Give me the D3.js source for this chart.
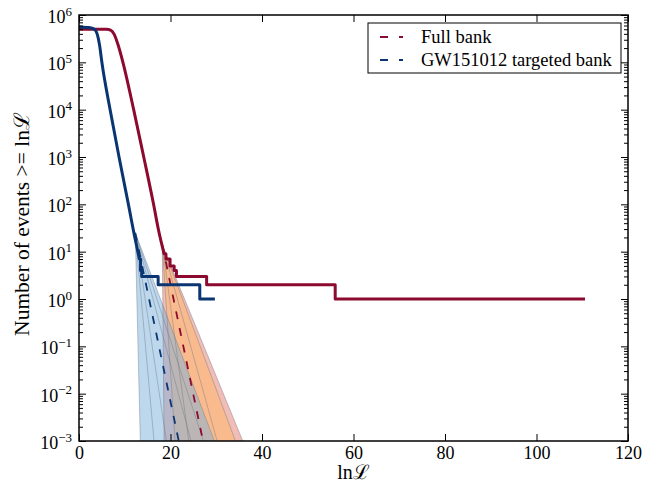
<!DOCTYPE html>
<html>
<head>
<meta charset="utf-8">
<script src="https://cdn.jsdelivr.net/npm/d3@7/dist/d3.min.js"></script>
<style>
body { margin: 0; background: #fff; }
#chart, #chart text { font-family: "Liberation Serif", "Times New Roman", "DejaVu Serif", serif; }
#chart text { fill: #000; }
</style>
</head>
<body>
<svg id="chart" width="663" height="485"></svg>
<script>
"use strict"

/* DATA
 */

// full bank: smooth part of the cumulative count, then the integer steps
const fullX = [0, 6.0, 6.9, 7.7, 8.5, 9.6, 11.95, 14.15, 16.3, 17.4, 18.6];
const fullN = [5.0e5, 5.0e5, 4.8e5, 3.9e5, 2.4e5, 1.0e5, 1.0e4, 1.0e3, 100, 28, 9];
const fullStepX = [18.6, 19.0, 19.9, 20.8, 21.3, 27.9, 56.0, 110.6];
const fullStepN = [9, 7, 5, 4, 3, 2, 1, 1];

// GW151012 targeted bank
const targX = [0, 2.5, 3.4, 4.0, 4.5, 5.0, 6.8, 8.75, 10.8, 12.2, 13.2];
const targN = [5.6e5, 5.4e5, 5.0e5, 3.9e5, 2.3e5, 1.0e5, 1.0e4, 1.0e3, 100, 20, 7];
const targStepX = [13.2, 13.45, 13.7, 17.3, 26.4, 29.7];
const targStepN = [7, 4, 3, 2, 1, 1];

// exponential fits (dashed): start point, and lnL where they reach 1e-3
const fullFitX = [18.2, 27.1];
const fullFitN = [14, 1e-3];
const targFitX = [12.3, 21.8];
const targFitN = [25, 1e-3];

// uncertainty fans: lnL at 1e-3 of each band edge, inner to outer
const fullBandLo = [24.0, 21.0, 18.6];
const fullBandHi = [30.2, 34.2, 35.8];
const targBandLo = [19.1, 16.4, 13.4];
const targBandHi = [24.5, 27.2, 29.6];

const xTicks = [0, 20, 40, 60, 80, 100, 120];
const yExponents = [-3, -2, -1, 0, 1, 2, 3, 4, 5, 6];

const legendLabels = ["Full bank", "GW151012 targeted bank"];

/* STYLE
 */
const RED = "#8c0a2f", BLUE = "#0b3572";
const FONT = "'Liberation Serif', 'Times New Roman', 'DejaVu Serif', serif";
const mLeft = 79, mRight = 628, mTop = 15, mBottom = 441;

const svg = d3.select("#chart").attr("font-family", FONT);

const x = d3.scaleLinear().domain([0, 120]).range([mLeft, mRight]);
const y = d3.scaleLog().domain([1e-3, 1e6]).range([mBottom, mTop]);

const yMajor = yExponents.map((e) => Math.pow(10, e));
const yMinor = [];
yExponents.slice(0, -1).forEach((e) => {
    for (let m = 2; m <= 9; m++) yMinor.push(m * Math.pow(10, e));
});

svg.append("defs").append("clipPath").attr("id", "plotclip")
    .append("rect")
    .attr("x", mLeft).attr("y", mTop)
    .attr("width", mRight - mLeft).attr("height", mBottom - mTop);

const plot = svg.append("g").attr("clip-path", "url(#plotclip)");

/* FANS
 */
function fan(fitX, fitN, lo, hi, fills, opacity) {
    const g = plot.append("g").attr("opacity", opacity);
    for (let k = lo.length - 1; k >= 0; k--) {
        const pts = [[fitX[0], fitN[0]], [lo[k], fitN[1]], [hi[k], fitN[1]]];
        g.append("path")
            .attr("d", "M" + pts.map((p) => [x(p[0]), y(p[1])].join(",")).join("L") + "Z")
            .attr("fill", fills[k]);
    }
}

function fanEdges(fitX, fitN, lo, hi) {
    lo.concat(hi).forEach((e) => {
        plot.append("line")
            .attr("x1", x(fitX[0])).attr("y1", y(fitN[0]))
            .attr("x2", x(e)).attr("y2", y(fitN[1]))
            .attr("stroke", "#6a7480")
            .attr("stroke-opacity", 0.4)
            .attr("stroke-width", 1);
    });
}

fan(fullFitX, fullFitN, fullBandLo, fullBandHi, ["#f9bb8e", "#f9bb8e", "#f1bdb6"], 1);
fan(targFitX, targFitN, targBandLo, targBandHi, ["#7eb2dd", "#7eb2dd", "#7eb2dd"], 0.5);
fanEdges(fullFitX, fullFitN, fullBandLo, fullBandHi);
fanEdges(targFitX, targFitN, targBandLo, targBandHi);

/* FITS + CURVES
 */
function dashed(xs, ns, color) {
    const line = d3.line().x((d) => x(d[0])).y((d) => y(d[1]));
    plot.append("path")
        .attr("d", line(d3.zip(xs, ns)))
        .attr("fill", "none")
        .attr("stroke", color)
        .attr("stroke-width", 1.8)
        .attr("stroke-dasharray", "8,9");
}

dashed(fullFitX, fullFitN, RED);
dashed(targFitX, targFitN, BLUE);

function curve(xs, ns, sx, sn, color) {
    const smooth = d3.line().x((d) => x(d[0])).y((d) => y(d[1]))
        .curve(d3.curveMonotoneX)(d3.zip(xs, ns));
    const steps = d3.line().x((d) => x(d[0])).y((d) => y(d[1]))
        .curve(d3.curveStepAfter)(d3.zip(sx, sn));
    plot.append("path")
        .attr("d", smooth + steps.replace(/^M/, "L"))
        .attr("fill", "none")
        .attr("stroke", color)
        .attr("stroke-width", 3)
        .attr("stroke-linejoin", "round");
}

curve(fullX, fullN, fullStepX, fullStepN, RED);
curve(targX, targN, targStepX, targStepN, BLUE);

/* AXES
 */
function clean(g) {
    g.select(".domain").remove();
    g.selectAll(".tick line").attr("stroke", "#000").attr("stroke-width", 1);
    g.attr("font-family", FONT);
}

svg.append("g")
    .attr("transform", `translate(0,${mBottom})`)
    .call(d3.axisBottom(x).tickValues(xTicks).tickSizeInner(-7)
          .tickSizeOuter(0).tickPadding(5).tickFormat(d3.format("d")))
    .call(clean)
    .attr("font-size", 18)
    .selectAll("text").attr("fill", "#000");

svg.append("g")
    .attr("transform", `translate(0,${mTop})`)
    .call(d3.axisTop(x).tickValues(xTicks).tickSizeInner(-7)
          .tickSizeOuter(0).tickFormat(""))
    .call(clean);

[[d3.axisLeft, mLeft], [d3.axisRight, mRight]].forEach(([axis, pos]) => {
    svg.append("g")
        .attr("transform", `translate(${pos},0)`)
        .call(axis(y).tickValues(yMajor).tickSizeInner(-7)
              .tickSizeOuter(0).tickFormat(""))
        .call(clean);
    svg.append("g")
        .attr("transform", `translate(${pos},0)`)
        .call(axis(y).tickValues(yMinor).tickSizeInner(-4)
              .tickSizeOuter(0).tickFormat(""))
        .call(clean);
});

const yLabels = svg.append("g").attr("font-size", 18);
yExponents.forEach((e) => {
    const t = yLabels.append("text")
        .attr("x", mLeft - 7)
        .attr("y", y(Math.pow(10, e)))
        .attr("dy", "0.45em")
        .attr("text-anchor", "end");
    t.append("tspan").text("10");
    t.append("tspan")
        .attr("font-size", 13)
        .attr("dy", -7.5)
        .text(e < 0 ? "\u2212" + (-e) : String(e));
});

svg.append("rect")
    .attr("x", mLeft).attr("y", mTop)
    .attr("width", mRight - mLeft).attr("height", mBottom - mTop)
    .attr("fill", "none")
    .attr("stroke", "#000")
    .attr("stroke-width", 1.5);

svg.append("text")
    .attr("x", (mLeft + mRight) / 2)
    .attr("y", 479)
    .attr("text-anchor", "middle")
    .attr("font-size", 20)
    .text("ln\u2112");

svg.append("text")
    .attr("transform", "translate(29,224) rotate(-90)")
    .attr("text-anchor", "middle")
    .attr("font-size", 21.5)
    .text("Number of events >= ln\u2112");

/* LEGEND
 */
const legend = svg.append("g");
legend.append("rect")
    .attr("x", 368).attr("y", 23)
    .attr("width", 253).attr("height", 50)
    .attr("fill", "#fff")
    .attr("stroke", "#000")
    .attr("stroke-width", 1);

[RED, BLUE].forEach((color, i) => {
    const yy = 37 + i * 23;
    legend.append("line")
        .attr("x1", 380).attr("x2", 403)
        .attr("y1", yy).attr("y2", yy)
        .attr("stroke", color)
        .attr("stroke-width", 1.8)
        .attr("stroke-dasharray", "8,11");
    legend.append("text")
        .attr("x", 421).attr("y", yy + 6)
        .attr("font-size", 18.5)
        .text(legendLabels[i]);
});
</script>
</body>
</html>
